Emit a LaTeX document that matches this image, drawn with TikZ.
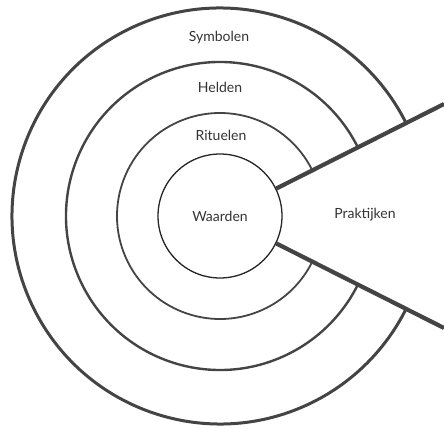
\documentclass[tikz,border=0pt]{standalone}
\usepackage{fontspec}
\setmainfont{Lato}
\usepackage{tikz}
\usetikzlibrary{calc}

\definecolor{ringgray}{HTML}{444444}
\definecolor{textgray}{HTML}{333333}

\tikzset{
    ring/.style={draw=ringgray},
    wedgeline/.style={draw=ringgray,line width=4.2pt},
    lbl/.style={text=textgray,font=\fontsize{14}{16}\selectfont}
}

\begin{document}
\begin{tikzpicture}[x=1pt,y=1pt]

\useasboundingbox (0,0) rectangle (444,428);
\coordinate (c) at (220,212);

% Rings, open towards the right
\draw[ring,line width=3pt] ($(c)+(26.565:208)$) arc[start angle=26.565,end angle=333.435,radius=208];
\draw[ring,line width=2.4pt] ($(c)+(26.565:154)$) arc[start angle=26.565,end angle=333.435,radius=154];
\draw[ring,line width=1.8pt] ($(c)+(26.565:103)$) arc[start angle=26.565,end angle=333.435,radius=103];

% Core
\node[circle,draw=black!85,line width=1.3pt,minimum size=124pt,inner sep=0pt,lbl] (waarden) at (c) {Waarden};

% Wedge
\coordinate (top) at ($(c)+(26.565:250.45)$);
\coordinate (bottom) at ($(c)+(-26.565:250.45)$);
\draw[wedgeline] (waarden.26.565) -- (top);
\draw[wedgeline] (waarden.-26.565) -- (bottom);

% Labels
\node[lbl] (symbolen) at (219,390) {Symbolen};
\node[lbl] (helden) at (220,341) {Helden};
\node[lbl] (rituelen) at (221,293) {Rituelen};
\node[lbl] (praktijken) at (365,213) {Praktijken};

\end{tikzpicture}
\end{document}
